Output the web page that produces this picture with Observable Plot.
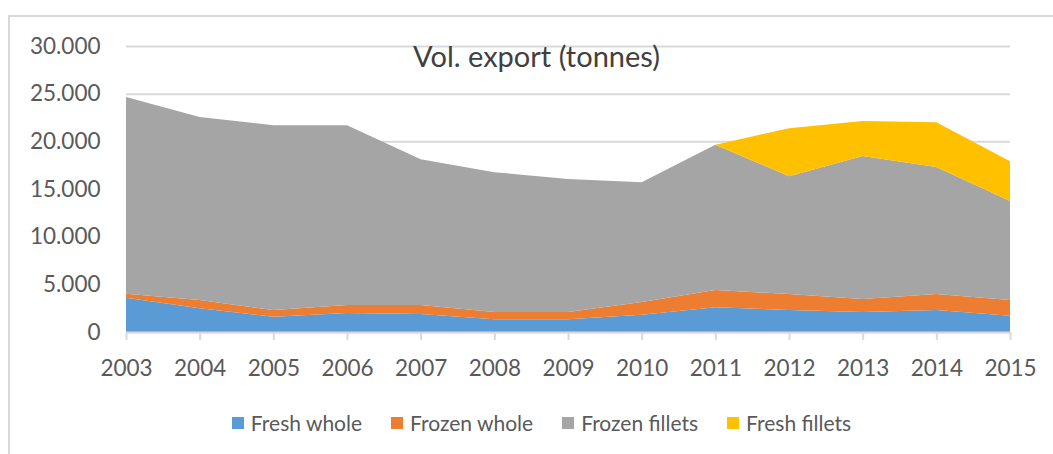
<!DOCTYPE html>
<html>
<head>
<meta charset="utf-8">
<script src="https://cdn.jsdelivr.net/npm/d3@7"></script>
<script src="https://cdn.jsdelivr.net/npm/@observablehq/plot@0.6"></script>
<style>
  html, body { margin: 0; padding: 0; background: #fff; }
  #wrap { position: relative; width: 1053px; height: 454px; overflow: hidden; font-family: Lato, "Open Sans", sans-serif; color: #595959; }
  #frame { position: absolute; left: 8px; top: 15px; width: 1100px; height: 500px; border-left: 2px solid #d9d9d9; border-top: 2px solid #d9d9d9; box-sizing: border-box; }
  #chart { position: absolute; left: 0; top: 0; }
  #title { position: absolute; left: 0; width: 1073px; top: 38px; text-align: center; font-size: 29px; line-height: 36px; color: #404040; }
  #legend { position: absolute; left: 0; width: 1083px; top: 409px; display: flex; justify-content: center; gap: 29px; font-size: 21px; line-height: 28px; }
  .item { display: flex; align-items: center; gap: 7px; }
  .sw { width: 12px; height: 12px; display: inline-block; }
</style>
</head>
<body>
<div id="wrap">
  <div id="frame"></div>
  <div id="chart"></div>
  <div id="title">Vol. export (tonnes)</div>
  <div id="legend"></div>
</div>
<script>
const years = [2003, 2004, 2005, 2006, 2007, 2008, 2009, 2010, 2011, 2012, 2013, 2014, 2015];
const seriesNames = ["Fresh whole", "Frozen whole", "Frozen fillets", "Fresh fillets"];
const seriesColors = ["#5B9BD5", "#ED7D31", "#A5A5A5", "#FFC000"];
const freshWhole    = [3600, 2500, 1600, 2000, 1900, 1350, 1350, 1800, 2600, 2300, 2100, 2300, 1700];
const frozenWhole   = [400, 850, 700, 830, 930, 750, 750, 1340, 1800, 1680, 1360, 1680, 1650];
const frozenFillets = [20650, 19190, 19400, 18870, 15300, 14670, 13940, 12580, 15250, 12370, 14990, 13320, 10380];
const freshFillets  = [0, 0, 0, 0, 0, 0, 0, 0, 0, 5030, 3670, 4710, 4190];
const yTicks = [0, 5000, 10000, 15000, 20000, 25000, 30000];

const seriesValues = [freshWhole, frozenWhole, frozenFillets, freshFillets];
const data = [];
seriesNames.forEach((name, i) => {
  years.forEach((yr, j) => data.push({year: yr, series: name, value: seriesValues[i][j]}));
});

const fmt = d => d3.format(",")(d).replace(/,/g, ".");

const plot = Plot.plot({
  width: 1053,
  height: 400,
  marginLeft: 126,
  marginRight: 43,
  marginTop: 46,
  marginBottom: 68,
  style: {fontFamily: "Lato, 'Open Sans', sans-serif", background: "transparent"},
  x: {domain: [2003, 2015]},
  y: {domain: [0, 30000]},
  color: {domain: seriesNames, range: seriesColors},
  marks: [
    Plot.gridY(yTicks, {stroke: "#d9d9d9", strokeOpacity: 1, strokeWidth: 2}),
    Plot.areaY(data, {x: "year", y: "value", fill: "series", z: "series", order: seriesNames}),
    Plot.ruleY([0], {stroke: "#d9d9d9", strokeWidth: 2}),
    Plot.axisX(years, {tickSize: 8, tickPadding: 20, tickFormat: d => String(d), stroke: "#d9d9d9", fill: "#595959", fontSize: 22.5, label: null, strokeWidth: 2}),
    Plot.axisY(yTicks, {tickSize: 0, tickPadding: 26, tickFormat: fmt, fill: "#595959", fontSize: 22.5, label: null})
  ]
});
document.getElementById("chart").appendChild(plot);

const legend = document.getElementById("legend");
seriesNames.forEach((name, i) => {
  const item = document.createElement("div");
  item.className = "item";
  const sw = document.createElement("span");
  sw.className = "sw";
  sw.style.background = seriesColors[i];
  const lab = document.createElement("span");
  lab.textContent = name;
  item.appendChild(sw);
  item.appendChild(lab);
  legend.appendChild(item);
});
</script>
</body>
</html>
